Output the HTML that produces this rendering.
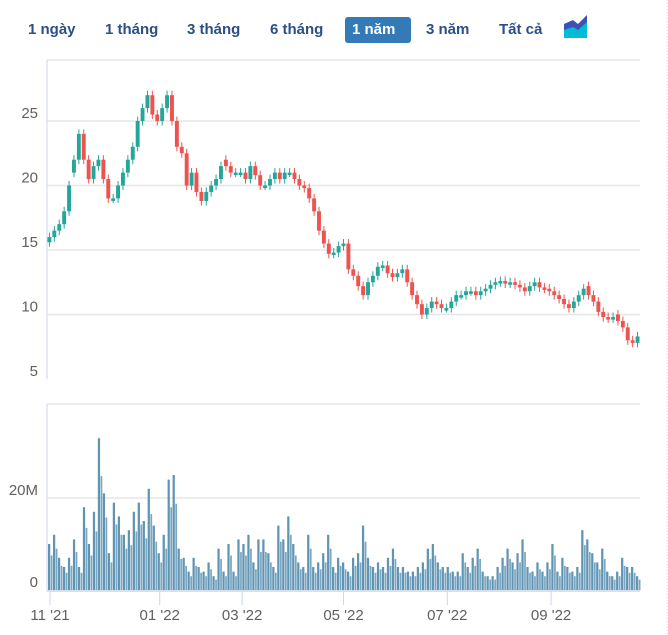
<!DOCTYPE html>
<html><head><meta charset="utf-8">
<style>
body{margin:0;background:#fff;width:668px;height:635px;overflow:hidden;font-family:"Liberation Sans",sans-serif;position:relative}
.btn{position:absolute;top:17px;height:26px;line-height:26px;font-size:15px;font-weight:bold;color:#2b4f86;padding:0 7px;border-radius:3px;cursor:pointer}
.sel{background:#337ab7;color:#fff}
svg{position:absolute;left:0;top:0}
text{font-family:"Liberation Sans",sans-serif;font-size:15px;fill:#606060}
</style></head><body>
<div class="btn" style="left:21px">1 ngày</div>
<div class="btn" style="left:98px">1 tháng</div>
<div class="btn" style="left:180px">3 tháng</div>
<div class="btn" style="left:263px">6 tháng</div>
<div class="btn sel" style="left:345px;width:52px">1 năm</div>
<div class="btn" style="left:419px">3 năm</div>
<div class="btn" style="left:492px">Tất cả</div>
<svg width="668" height="635" id="chart">
<g>
<polygon points="564,38 564,24 573,20 578,24 587,15 587,38" fill="#3f51b5"/>
<polygon points="564,38 564,30 573,27 578,30 587,22 587,38" fill="#00bcd4"/>
</g>
<line x1="667" y1="0" x2="667" y2="635" stroke="#ccc" stroke-dasharray="1,2"/>
<g id="grid"></g><g id="marks"></g><g id="labels"></g>
</svg>
<script>
const closes=[16,16.5,17,18,20,22,24,22,20.5,21.5,22,20.5,19,19,20,21,22,23,25,26,27,25.5,25,26,27,25,23,22.5,20,21,19.5,18.8,19.5,20,20.5,21.5,21.5,21,21,21,20.5,21.5,20.8,20,20,20.5,21,20.5,21,21,20.5,20,19.8,19,18,16.5,15.5,14.7,14.8,15.3,15.5,13.5,13,12.2,11.5,12.5,13,13.7,13.8,13.2,12.9,13.2,13.5,12.5,11.5,10.8,10,10.5,11,10.8,10.5,10.5,11,11.5,11.5,11.8,11.8,11.5,11.8,12,12.3,12.5,12.6,12.4,12.5,12.3,12.1,11.8,12.2,12.5,12.1,12,11.8,11.5,11.2,10.8,10.5,11,11.5,12,11.5,11,10.2,9.8,9.7,9.8,9.5,9,8,7.8,8.3];
const opens=[15.6,16,16.5,17,18,21,22,24,22,20.5,21.5,22,20.5,19,19,20,21,22,23,25,26,27,25.5,25,26,27,25,23,22.5,20,21,19.5,18.8,19.5,20,20.5,22,21.5,21,21,21,20.5,21.5,20.8,20,20,20.5,21,20.5,21,21,20.5,20,19.8,19,18,16.5,15.5,14.7,14.8,15.3,15.5,13.5,13,12.2,11.5,12.5,13,13.7,13.8,13.2,12.9,13.2,13.5,12.5,11.5,10.8,10,10.5,11,10.8,10.5,10.5,11,11.5,11.5,11.8,11.8,11.5,11.8,12,12.3,12.5,12.6,12.4,12.5,12.3,12.1,11.8,12.2,12.5,12.1,12,11.8,11.5,11.2,10.8,10.5,11,11.5,12.2,11.5,11,10.2,9.8,9.7,10,9.5,9,8,7.8];
const volumes=[10,12,7,5,7,11,5,18,10,17,33,21,8,19,16,12,13,17,19,15,22,14,8,12,24,25,9,7,4,7,5,4,6,3,9,4,10,4,11,10,12,6,11,11,8,5,14,11,16,10,6,5,12,5,6,8,12,5,7,6,4,7,8,14,7,5,6,5,7,9,5,5,4,4,5,6,9,10,6,5,5,4,4,8,5,7,9,4,3,3,5,7,9,6,8,11,5,4,6,4,6,10,4,7,5,4,5,13,11,8,6,9,4,3,4,7,5,5,3];
const priceTicks=[5,10,15,20,25];
const volTicks=[0,20];
const monthLabels=["11 '21","01 '22","03 '22","05 '22","07 '22","09 '22"];
const monthPos=[0.0,0.185,0.324,0.495,0.67,0.845];

const X0=47,X1=640;
const py=p=>379-(p-5)*12.9;
const vy=v=>590-v*4.6;
const NS='http://www.w3.org/2000/svg';
function mk(tag,attrs,parent){const e=document.createElementNS(NS,tag);for(const k in attrs)e.setAttribute(k,attrs[k]);document.getElementById(parent).appendChild(e);return e;}

let e=mk('line',{x1:X0,y1:60,x2:X1,y2:60,stroke:'#e6e6e6','stroke-width':1.5},'grid');

priceTicks.forEach(t=>{
 if(t>5){let g=mk('line',{x1:X0,y1:py(t),x2:X1,y2:py(t),stroke:'#e6e6e6','stroke-width':1.5},'grid');
 }
 let l=mk('text',{x:38,y:py(t)-3,'text-anchor':'end'},'labels');l.textContent=t;
 
});
e=mk('line',{x1:X0,y1:60,x2:X0,y2:379,stroke:'#ccd6eb','stroke-width':1},'grid');

e=mk('line',{x1:X0,y1:404,x2:X1,y2:404,stroke:'#e6e6e6','stroke-width':1.5},'grid');

volTicks.forEach(t=>{
 if(t>0){let g=mk('line',{x1:X0,y1:vy(t),x2:X1,y2:vy(t),stroke:'#e6e6e6','stroke-width':1.5},'grid');
 }
 let l=mk('text',{x:38,y:vy(t)-3,'text-anchor':'end'},'labels');l.textContent=t?t+'M':'0';
 
});
e=mk('line',{x1:X0,y1:404,x2:X0,y2:591,stroke:'#ccd6eb','stroke-width':1},'grid');

e=mk('line',{x1:X0,y1:591,x2:X1,y2:591,stroke:'#ccd6eb','stroke-width':1.5},'grid');

monthLabels.forEach((m,i)=>{
 const x=X0+3+monthPos[i]*(X1-X0);
 let t=mk('line',{x1:x,y1:591,x2:x,y2:605,stroke:'#ccd6eb'},'grid');
 
 let l=mk('text',{x:x,y:620,'text-anchor':'middle'},'labels');l.textContent=m;
 
});

const n=closes.length, cw=(X1-X0)/n;
closes.forEach((c,i)=>{
 const o=opens[i], up=c>=o, col=up?'#26a69a':'#ef5350';
 const x=X0+(i+0.5)*cw;
 const hi=Math.max(o,c)+0.35, lo=Math.min(o,c)-0.35;
 let w=mk('line',{x1:x,y1:py(hi),x2:x,y2:py(lo),stroke:col,'stroke-width':1},'marks');
 
 const y1=py(Math.max(o,c)),y2=py(Math.min(o,c));
 let r=mk('rect',{x:x-cw*0.4,y:y1,width:cw*0.8,height:Math.max(2.5,y2-y1),fill:col},'marks');
 
});
const vn=volumes.length, vw=(X1-X0)/vn;
volumes.forEach((v,i)=>{
 const x=X0+1+i*vw;
 let r=mk('rect',{x:x,y:vy(v),width:vw*0.45,height:590-vy(v),fill:'#5f94b3'},'marks');
 
 let r2=mk('rect',{x:x+vw*0.55,y:vy(v*0.75),width:vw*0.35,height:590-vy(v*0.75),fill:'#7aa7c1'},'marks');
 
});
</script>
</body></html>
